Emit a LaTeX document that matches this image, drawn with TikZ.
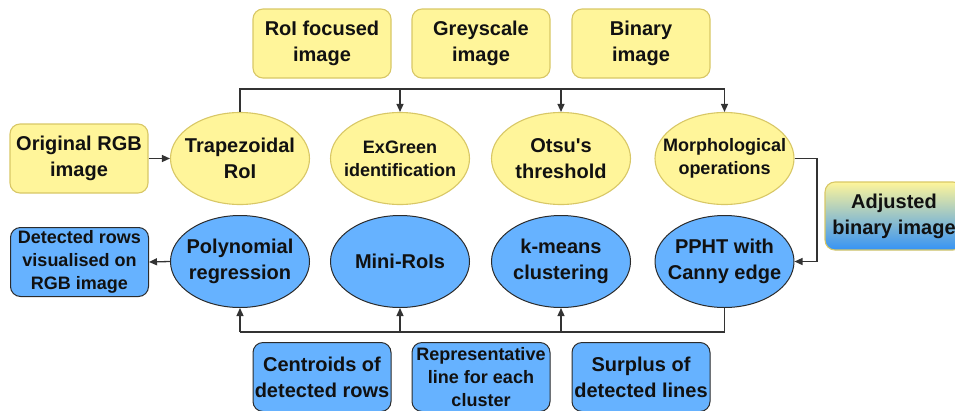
\documentclass[tikz,border=0pt]{standalone}
\usepackage{fontspec}
\setmainfont{Liberation Sans}
\usetikzlibrary{shapes.geometric,arrows.meta}
\definecolor{ylwfill}{HTML}{FFF59A}
\definecolor{ylwline}{HTML}{D8C766}
\definecolor{bluefill}{HTML}{66B2FF}
\definecolor{blueline}{HTML}{2B2B2B}
\definecolor{linegray}{HTML}{333333}
\definecolor{gradmid}{HTML}{B8E2B8}
\definecolor{gradblue}{HTML}{3593F5}
\definecolor{ink}{HTML}{111111}
\tikzset{
  big/.style={font=\bfseries\fontsize{20}{26}\selectfont, text=ink, align=center},
  small/.style={font=\bfseries\fontsize{18}{23}\selectfont, text=ink, align=center},
  boxbase/.style={rounded corners=10pt, minimum width=138pt, minimum height=69pt,
                  align=center, inner sep=0pt},
  ybox/.style={boxbase, draw=ylwline, fill=ylwfill, line width=1.1pt},
  bbox/.style={boxbase, draw=blueline, fill=bluefill, line width=1pt},
  ellbase/.style={ellipse, minimum width=139pt, minimum height=92pt, inner sep=0pt},
  yell/.style={ellbase, draw=ylwline, fill=ylwfill, line width=1.1pt},
  bell/.style={ellbase, draw=blueline, fill=bluefill, line width=1pt},
  wire/.style={draw=linegray, line width=1.3pt},
  arr/.style={-{Triangle[length=8pt,width=7pt]}}
}
\begin{document}
\begin{tikzpicture}[x=1pt,y=-1pt]
\useasboundingbox (0,0) rectangle (955,410);

% intermediate images (top row)
\node[ybox,big] (roi)  at (322,43.5) {RoI focused\\image};
\node[ybox,big] (grey) at (481,43.5) {Greyscale\\image};
\node[ybox,big] (bin)  at (641,43.5) {Binary\\image};

% pre-processing stages (fixed-size ellipses, labels set on top)
\node[ybox,big] (orig) at (79,158.5) {Original RGB\\image};
\node[yell] (trap)  at (240,158.5) {};
\node[yell] (exg)   at (400,158.5) {};
\node[yell] (otsu)  at (561,158.5) {};
\node[yell] (morph) at (724.5,158.5) {};
\node[big]   (trapT)  at (trap)  {Trapezoidal\\RoI};
\node[small] (exgT)   at (exg)   {ExGreen\\identification};
\node[big]   (otsuT)  at (otsu)  {Otsu\textquotesingle s\\threshold};
\node[small] (morphT) at (morph) {Morphological\\operations};

% adjusted binary image
\node[boxbase,big,draw=ylwline,line width=1.1pt,
      top color=ylwfill, middle color=gradmid, bottom color=gradblue,
      minimum height=68pt] (adj) at (894,216) {Adjusted\\binary image};

% row detection stages
\node[bell] (poly)   at (240,261.5) {};
\node[bell] (mini)   at (400,261.5) {};
\node[bell] (kmeans) at (561,261.5) {};
\node[bell] (ppht)   at (724.5,261.5) {};
\node[big] (polyT)   at (poly)   {Polynomial\\regression};
\node[big] (miniT)   at (mini)   {Mini-RoIs};
\node[big] (kmeansT) at (kmeans) {k-means\\clustering};
\node[big] (pphtT)   at (ppht)   {PPHT with\\Canny edge};
\node[bbox,small] (det) at (79.5,262) {Detected rows\\visualised on\\RGB image};

% intermediate results (bottom row)
\node[bbox,big]   (cent) at (322,377) {Centroids of\\detected rows};
\node[bbox,small] (rep)  at (481,377) {Representative\\line for each\\cluster};
\node[bbox,big]   (surp) at (641,377) {Surplus of\\detected lines};

% bus lines
\coordinate (topbus) at (0,89);
\coordinate (botbus) at (0,332);
\coordinate (side) at (817,0);

\draw[wire,arr] (orig.east) -- (trap.west);

\draw[wire] (trap.north) -- (trap.north |- topbus) -- (morph.north |- topbus);
\draw[wire,arr] (exg.north |- topbus) -- (exg.north);
\draw[wire,arr] (otsu.north |- topbus) -- (otsu.north);
\draw[wire,arr] (morph.north |- topbus) -- (morph.north);

\draw[wire,arr] (morph.east) -- (morph.east -| side) -- (ppht.east -| side) -- (ppht.east);

\draw[wire] (ppht.south) -- (ppht.south |- botbus) -- (poly.south |- botbus);
\draw[wire,arr] (kmeans.south |- botbus) -- (kmeans.south);
\draw[wire,arr] (mini.south |- botbus) -- (mini.south);
\draw[wire,arr] (poly.south |- botbus) -- (poly.south);

\draw[wire,arr] (poly.west) -- (det.east);
\end{tikzpicture}
\end{document}
